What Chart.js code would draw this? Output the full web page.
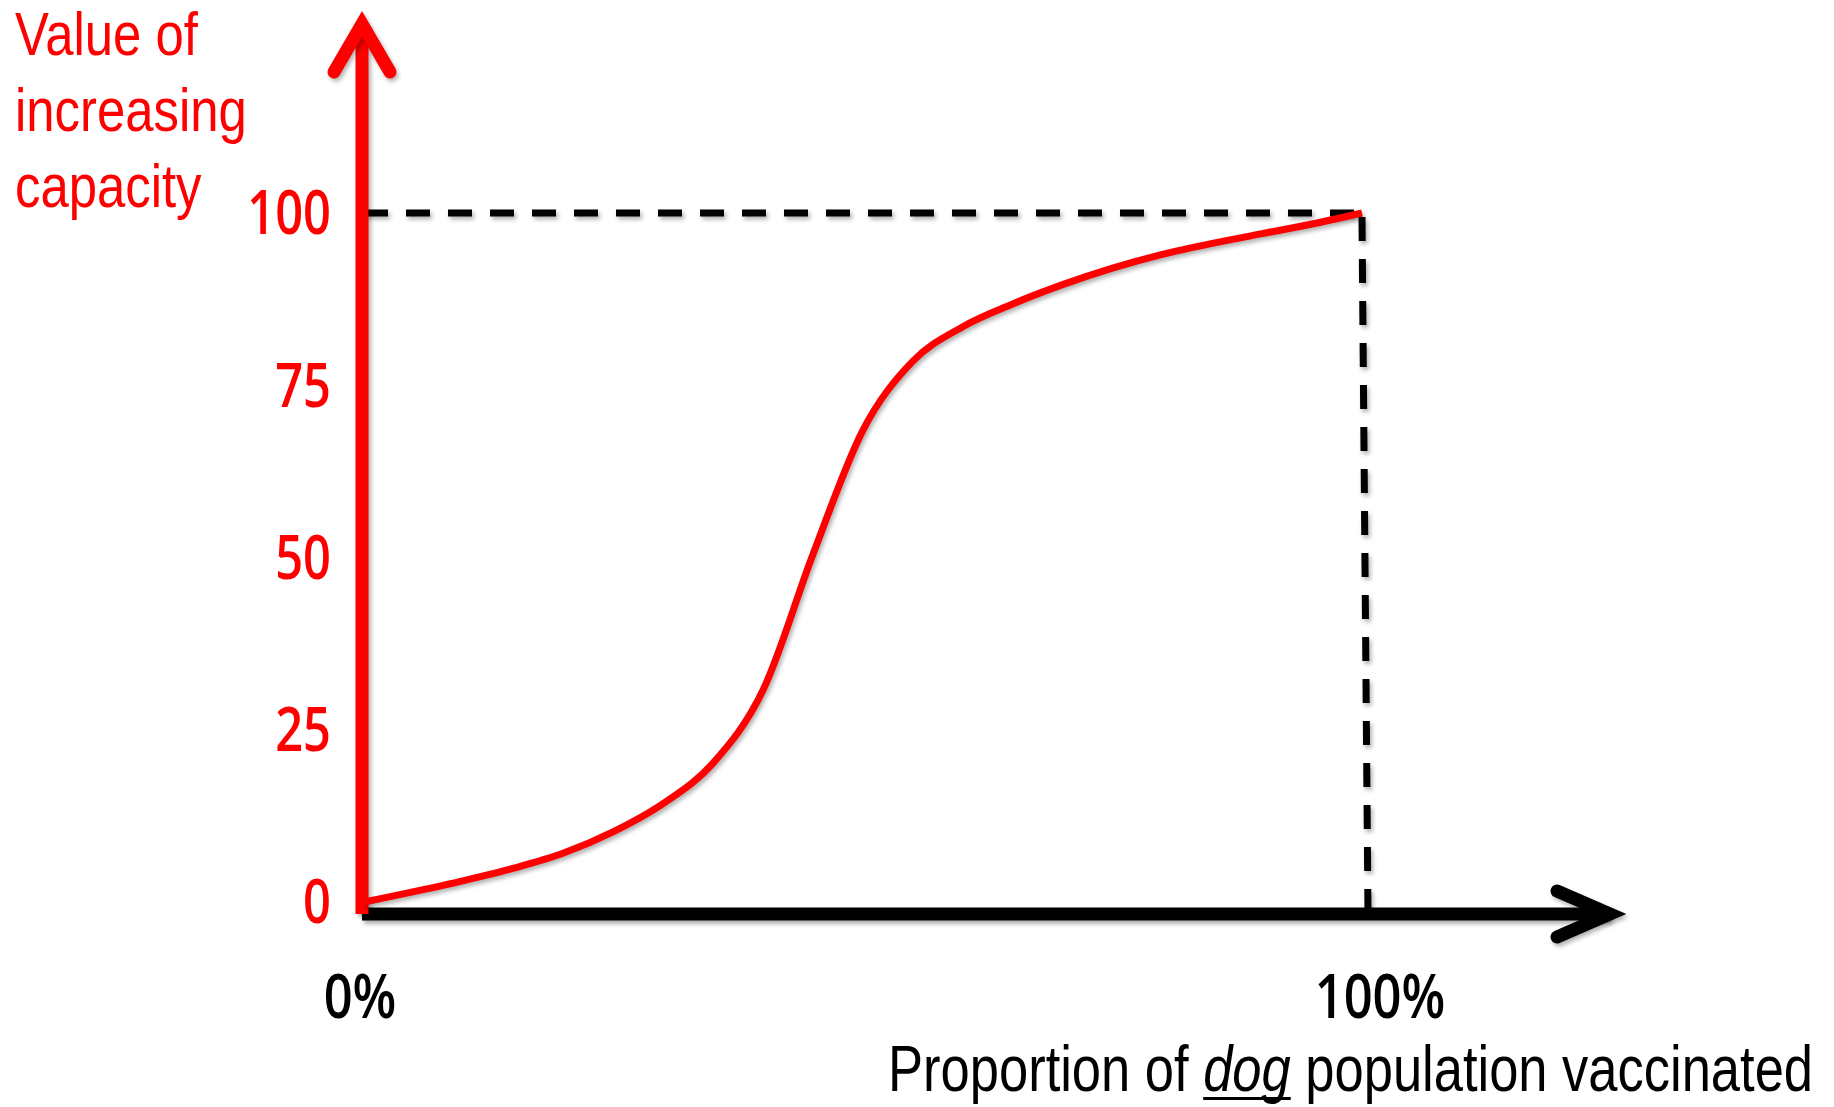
<!DOCTYPE html>
<html lang="en">
<head>
    <meta charset="UTF-8">
    <title>Value of increasing capacity</title>
    <script src="https://cdn.jsdelivr.net/npm/chart.js"></script>
    <style>
        html, body { margin: 0; padding: 0; background: #fff; }
        #wrap { width: 1834px; height: 1107px; }
    </style>
</head>
<body>
    <div id="wrap"><canvas id="capacityChart"></canvas></div>

    <script>
        // Values (x = % of dogs vaccinated, y = value of increasing capacity)
        const vaccinated = [0, 5, 10, 15, 20, 25, 30, 35, 40, 45, 50, 55, 60, 65, 70, 75, 80, 85, 90, 95, 100];
        const capacity = [0, 1.5, 3.1, 4.9, 7.1, 10.2, 14.3, 20.2, 30.8, 50.5, 68.5, 78.5, 83.5, 86.8, 89.6, 92.0, 94.0, 95.6, 97.0, 98.4, 100];

        const yTicks = [0, 25, 50, 75, 100];
        const xTicks = [0, 100];
        const yTitleLines = ['Value of', 'increasing', 'capacity'];
        const xTitleParts = [
            { text: 'Proportion of ', italic: false },
            { text: 'dog', italic: true, underline: true },
            { text: ' population vaccinated', italic: false }
        ];

        // no narrow fonts installed, so regular ones are squeezed sideways
        const FONT = "'Liberation Sans', Arial, sans-serif";
        const TICK_FONT = "'Open Sans', 'Noto Sans', sans-serif";
        const SQUEEZE = 0.82;
        const TICK_SQUEEZE = 0.8;
        const RED = '#ff0000';

        function setShadow(ctx) {
            ctx.shadowColor = 'rgba(0, 0, 0, 0.3)';
            ctx.shadowBlur = 4;
            ctx.shadowOffsetX = 2;
            ctx.shadowOffsetY = 3;
        }

        function narrowText(ctx, text, x, y, align, baseline, squeeze) {
            ctx.save();
            ctx.translate(x, y);
            ctx.scale(squeeze || SQUEEZE, 1);
            ctx.textAlign = align;
            ctx.textBaseline = baseline;
            ctx.fillText(text, 0, 0);
            ctx.restore();
        }

        // axes with arrows, dashed guide lines, tick labels and the two titles
        const decorations = {
            id: 'decorations',
            beforeDatasetsDraw(chart) {
                const ctx = chart.ctx;
                const x = chart.scales.x, y = chart.scales.y;
                const x0 = x.getPixelForValue(0), x100 = x.getPixelForValue(100);
                const y0 = y.getPixelForValue(0), y100 = y.getPixelForValue(100);
                const axisY = y0 + 12;

                ctx.save();
                setShadow(ctx);
                ctx.lineCap = 'butt';

                // dashed guides
                ctx.strokeStyle = '#000';
                ctx.lineWidth = 7;
                ctx.setLineDash([24, 18]);
                ctx.beginPath();
                ctx.moveTo(x0, y100);
                ctx.lineTo(x100, y100);
                ctx.stroke();
                ctx.beginPath();
                ctx.moveTo(x100, y100 + 4);
                ctx.lineTo(x100 + 6, axisY);
                ctx.stroke();
                ctx.setLineDash([]);

                // x axis (black)
                ctx.lineWidth = 13;
                ctx.beginPath();
                ctx.moveTo(x0 - 2, axisY);
                ctx.lineTo(x100 + 248, axisY);
                ctx.stroke();
                ctx.lineCap = 'round';
                ctx.beginPath();
                ctx.moveTo(x100 + 195, axisY - 23);
                ctx.lineTo(x100 + 248, axisY);
                ctx.lineTo(x100 + 195, axisY + 23);
                ctx.stroke();

                // y axis (red)
                ctx.strokeStyle = RED;
                ctx.lineCap = 'butt';
                ctx.beginPath();
                ctx.moveTo(x0 - 2, axisY);
                ctx.lineTo(x0 - 2, 24);
                ctx.stroke();
                ctx.lineCap = 'round';
                ctx.beginPath();
                ctx.moveTo(x0 - 30, 72);
                ctx.lineTo(x0 - 2, 24);
                ctx.lineTo(x0 + 26, 72);
                ctx.stroke();
                ctx.restore();

                ctx.save();
                // y tick labels
                ctx.fillStyle = RED;
                ctx.font = '600 61px ' + TICK_FONT;
                y.ticks.forEach((t, i) => {
                    narrowText(ctx, String(t.value), x0 - 33, y.getPixelForTick(i) + 4, 'right', 'middle', TICK_SQUEEZE);
                });
                // x tick labels
                ctx.fillStyle = '#000';
                ctx.font = '600 61px ' + TICK_FONT;
                x.ticks.forEach((t, i) => {
                    narrowText(ctx, t.value + '%', x.getPixelForTick(i) + (i ? 18 : -4), 1018, 'center', 'alphabetic', TICK_SQUEEZE + 0.03);
                });

                // y title, top left
                ctx.fillStyle = RED;
                ctx.font = '62px ' + FONT;
                yTitleLines.forEach((line, i) => narrowText(ctx, line, 15, 55 + i * 76, 'left', 'alphabetic'));

                // x title, bottom right, "dog" in italics and underlined
                ctx.fillStyle = '#000';
                const size = 64;
                let total = 0;
                xTitleParts.forEach(p => {
                    ctx.font = (p.italic ? 'italic ' : '') + size + 'px ' + FONT;
                    p.w = ctx.measureText(p.text).width * SQUEEZE;
                    total += p.w;
                });
                let tx = 1813 - total;
                const base = 1091;
                xTitleParts.forEach(p => {
                    ctx.font = (p.italic ? 'italic ' : '') + size + 'px ' + FONT;
                    narrowText(ctx, p.text, tx, base, 'left', 'alphabetic');
                    if (p.underline) {
                        ctx.fillRect(tx, base + 6, p.w, 3);
                    }
                    tx += p.w;
                });
                ctx.restore();
            },
            beforeDatasetDraw(chart) {
                chart.ctx.save();
                setShadow(chart.ctx);
            },
            afterDatasetDraw(chart) {
                chart.ctx.restore();
            }
        };

        const ctx = document.getElementById('capacityChart').getContext('2d');
        const capacityChart = new Chart(ctx, {
            type: 'line',
            data: {
                datasets: [{
                    data: vaccinated.map((v, i) => ({ x: v, y: capacity[i] })),
                    borderColor: RED,
                    borderWidth: 7,
                    pointRadius: 0,
                    fill: false,
                    cubicInterpolationMode: 'monotone',
                    clip: false
                }]
            },
            options: {
                responsive: true,
                maintainAspectRatio: false,
                animation: false,
                layout: { padding: { top: 213, right: 472, left: 0, bottom: 0 } },
                plugins: { legend: { display: false }, tooltip: { enabled: false } },
                scales: {
                    x: {
                        type: 'linear',
                        min: 0,
                        max: 100,
                        grid: { display: false, drawTicks: false },
                        border: { display: false },
                        afterBuildTicks: scale => { scale.ticks = xTicks.map(v => ({ value: v })); },
                        afterFit: scale => { scale.height = 205; },
                        ticks: { display: false }
                    },
                    y: {
                        min: 0,
                        max: 100,
                        grid: { display: false, drawTicks: false },
                        border: { display: false },
                        afterBuildTicks: scale => { scale.ticks = yTicks.map(v => ({ value: v })); },
                        afterFit: scale => { scale.width = 364; },
                        ticks: { display: false }
                    }
                }
            },
            plugins: [decorations]
        });
    </script>
</body>
</html>
